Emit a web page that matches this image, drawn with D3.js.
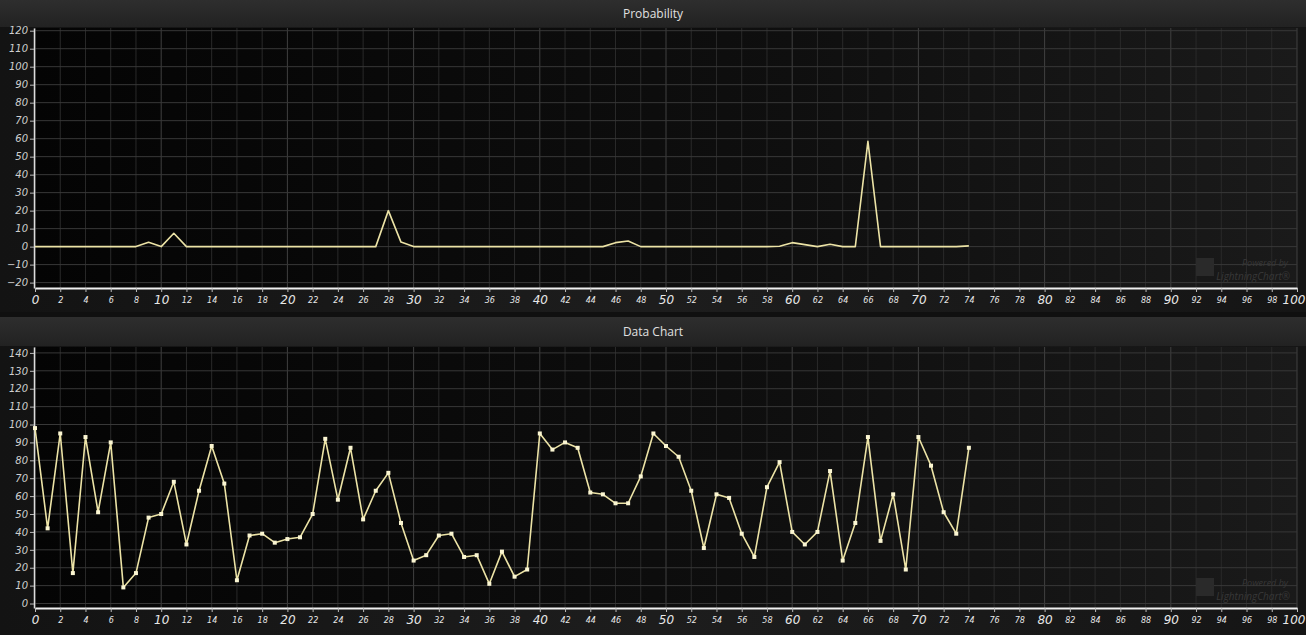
<!DOCTYPE html>
<html>
<head>
<meta charset="utf-8">
<script src="https://cdn.jsdelivr.net/npm/d3@7"></script>
<style>
  html, body { margin: 0; padding: 0; background: #1b1b1b; }
  svg { display: block; }
</style>
</head>
<body>
<svg id="chart" width="1306" height="635"></svg>
<script>
// x positions 0..74
var xValues = d3.range(0, 75);

// probability series (top chart)
var probValues = [0, 0, 0, 0, 0, 0, 0.1, 0, 0, 2.4, 0, 7.4, 0, 0, 0, 0, 0, 0, 0, 0,
  0, 0, 0.1, 0, 0, 0, 0, 0, 20, 2.5, 0, 0, 0, 0, 0, 0, 0, 0, 0, 0,
  0, 0, 0, 0, 0, 0, 2.2, 3.1, 0, 0, 0, 0, 0, 0, 0, 0, 0, 0, 0, 0.2,
  2.2, 1.1, 0, 1.3, 0, 0, 58.5, 0, 0, 0, 0, 0, 0, 0, 0.4];

// data series (bottom chart)
var dataValues = [98, 42, 95, 17, 93, 51, 90, 9, 17, 48, 50, 68, 33, 63, 88, 67, 13, 38, 39, 34,
  36, 37, 50, 92, 58, 87, 47, 63, 73, 45, 24, 27, 38, 39, 26, 27, 11, 29, 15, 19,
  95, 86, 90, 87, 62, 61, 56, 56, 71, 95, 88, 82, 63, 31, 61, 59, 39, 26, 65, 79,
  40, 33, 40, 74, 24, 45, 93, 35, 61, 19, 93, 77, 51, 39, 87];

var xTicks = d3.range(0, 101, 2);
var probYTicks = d3.range(-20, 121, 10);
var dataYTicks = d3.range(0, 141, 10);

var svg = d3.select('svg#chart');
var W = 1306;

var defs = svg.append('defs');
var pg = defs.append('linearGradient').attr('id', 'plotbg').attr('x1', 0).attr('x2', 1).attr('y1', 0).attr('y2', 0);
pg.append('stop').attr('offset', '0%').attr('stop-color', '#040404');
pg.append('stop').attr('offset', '60%').attr('stop-color', '#0f0f0f');
pg.append('stop').attr('offset', '100%').attr('stop-color', '#1a1a1a');
var tg = defs.append('linearGradient').attr('id', 'titlebg').attr('x1', 0).attr('x2', 0).attr('y1', 0).attr('y2', 1);
tg.append('stop').attr('offset', '0%').attr('stop-color', '#2e2e2e');
tg.append('stop').attr('offset', '100%').attr('stop-color', '#222222');
var og = defs.append('linearGradient').attr('id', 'outerbg').attr('x1', 0).attr('x2', 1).attr('y1', 0).attr('y2', 0);
og.append('stop').attr('offset', '0%').attr('stop-color', '#131313');
og.append('stop').attr('offset', '50%').attr('stop-color', '#1d1d1d');
og.append('stop').attr('offset', '100%').attr('stop-color', '#151515');

function drawChart(opt) {
  var g = svg.append('g');
  var left = 35, right = 1297;

  // panel background
  g.append('rect').attr('x', 0).attr('y', opt.top).attr('width', W).attr('height', opt.bottom - opt.top)
    .attr('fill', 'url(#outerbg)');
  g.append('rect').attr('x', 0).attr('y', opt.top).attr('width', W).attr('height', opt.titleH)
    .attr('fill', 'url(#titlebg)');
  g.append('text')
    .attr('x', W / 2).attr('y', opt.top + opt.titleH / 2)
    .attr('dy', '0.35em').attr('text-anchor', 'middle')
    .attr('font-family', 'Open Sans, sans-serif').attr('font-size', 12)
    .attr('fill', '#e0e0e0')
    .text(opt.title);

  var x = d3.scaleLinear().domain([0, 100]).range([left, right]);
  var y = d3.scaleLinear().domain(opt.yDomain).range([opt.plotBottom, opt.plotTop]);

  g.append('rect').attr('x', left).attr('y', opt.plotTop)
    .attr('width', right - left).attr('height', opt.plotBottom - opt.plotTop)
    .attr('fill', 'url(#plotbg)');

  // grid
  g.append('g').selectAll('line').data(xTicks).join('line')
    .attr('x1', d => x(d)).attr('x2', d => x(d))
    .attr('y1', opt.plotTop).attr('y2', opt.plotBottom)
    .attr('stroke', d => d % 10 === 0 ? '#404040' : '#2a2a2a')
    .attr('stroke-width', 1);
  g.append('g').selectAll('line').data(opt.yTicks).join('line')
    .attr('x1', left).attr('x2', right)
    .attr('y1', d => y(d)).attr('y2', d => y(d))
    .attr('stroke', '#383838')
    .attr('stroke-width', 1);

  // watermark
  var wm = g.append('g').attr('fill', '#383838').attr('font-family', 'Open Sans, sans-serif')
    .attr('font-style', 'italic').attr('text-anchor', 'end');
  wm.append('text').attr('x', 1288).attr('y', opt.plotBottom - 22).attr('font-size', 9).text('Powered by');
  wm.append('text').attr('x', 1290).attr('y', opt.plotBottom - 8).attr('font-size', 10).text('LightningChart\u00ae');
  wm.append('rect').attr('x', 1196).attr('y', opt.plotBottom - 30).attr('width', 18).attr('height', 18)
    .attr('fill', '#2a2a2a');

  // y axis
  var yAxis = g.append('g')
    .attr('transform', 'translate(' + (left - 1) + ',0)')
    .call(d3.axisLeft(y).tickValues(opt.yTicks).tickSize(4).tickSizeOuter(0));
  yAxis.select('.domain').attr('stroke', '#dcdcdc').attr('stroke-width', 1.5);
  yAxis.selectAll('.tick line').attr('stroke', '#bbbbbb');
  yAxis.selectAll('.tick text')
    .attr('fill', '#cfcfcf').attr('font-size', 10).attr('font-style', 'italic')
    .attr('font-family', 'DejaVu Sans, sans-serif').attr('x', -6);

  // x axis
  var xAxis = g.append('g')
    .attr('transform', 'translate(0,' + opt.plotBottom + ')')
    .call(d3.axisBottom(x).tickValues(xTicks).tickSize(4).tickSizeOuter(0));
  xAxis.select('.domain').attr('stroke', '#f0f0f0').attr('stroke-width', 2);
  xAxis.selectAll('.tick line').attr('stroke', '#bbbbbb');
  xAxis.selectAll('.tick text')
    .attr('fill', '#e8e8e8').attr('font-style', 'italic')
    .attr('font-family', 'DejaVu Sans, sans-serif')
    .attr('font-size', d => d % 10 === 0 ? 12 : 8)
    .attr('y', d => d % 10 === 0 ? 7 : 9);
  xAxis.selectAll('.tick text').filter(d => d === 100)
    .attr('text-anchor', 'end').attr('x', 8);

  // series line
  var line = d3.line().x((d, i) => x(xValues[i])).y(d => y(d));
  g.append('path')
    .datum(opt.values)
    .attr('d', line)
    .attr('fill', 'none')
    .attr('stroke', '#ece3a6')
    .attr('stroke-width', 1.6)
    .attr('stroke-linejoin', 'round');

  if (opt.markers) {
    g.append('g').selectAll('rect').data(opt.values).join('rect')
      .attr('x', (d, i) => x(xValues[i]) - 2)
      .attr('y', d => y(d) - 2)
      .attr('width', 4).attr('height', 4)
      .attr('fill', '#fbf6d2');
  }
}

// separator
svg.append('rect').attr('x', 0).attr('y', 0).attr('width', W).attr('height', 635).attr('fill', '#101010');

drawChart({
  title: 'Probability', top: 0, bottom: 312, titleH: 27,
  plotTop: 28, plotBottom: 288, yDomain: [-23, 121.5],
  yTicks: probYTicks, values: probValues, markers: false
});

drawChart({
  title: 'Data Chart', top: 317, bottom: 635, titleH: 29,
  plotTop: 347, plotBottom: 608, yDomain: [-2.5, 143.3],
  yTicks: dataYTicks, values: dataValues, markers: true
});
</script>
</body>
</html>
